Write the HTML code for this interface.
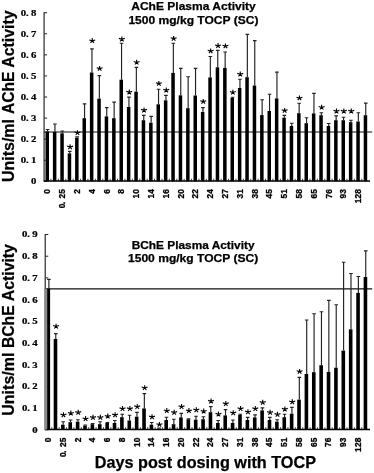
<!DOCTYPE html>
<html><head><meta charset="utf-8"><title>ChE Plasma Activity</title>
<style>
html,body{margin:0;padding:0;background:#fff;}
svg{display:block;will-change:transform;opacity:0.999;}
text{font-family:"Liberation Sans",sans-serif;fill:#000;}
.yl{font-family:"Liberation Serif",serif;font-weight:bold;font-size:7.7px;stroke:#000;stroke-width:0.2px;}
.xl{font-weight:bold;font-size:8.4px;stroke:#000;stroke-width:0.3px;}
.tt{font-weight:bold;font-size:10px;stroke:#000;stroke-width:0.25px;}
.at{font-weight:bold;font-size:16px;stroke:#000;stroke-width:0.25px;}
</style></head><body>
<svg width="374" height="473" viewBox="0 0 374 473">
<rect width="374" height="473" fill="#fff"/>
<line x1="44.1" y1="12.2" x2="44.1" y2="181.3" stroke="#3a3a3a" stroke-width="1.3"/>
<line x1="44.1" y1="12.70" x2="47.1" y2="12.70" stroke="#222" stroke-width="1.0"/>
<line x1="44.1" y1="33.78" x2="47.1" y2="33.78" stroke="#222" stroke-width="1.0"/>
<line x1="44.1" y1="54.86" x2="47.1" y2="54.86" stroke="#222" stroke-width="1.0"/>
<line x1="44.1" y1="75.94" x2="47.1" y2="75.94" stroke="#222" stroke-width="1.0"/>
<line x1="44.1" y1="97.02" x2="47.1" y2="97.02" stroke="#222" stroke-width="1.0"/>
<line x1="44.1" y1="118.10" x2="47.1" y2="118.10" stroke="#222" stroke-width="1.0"/>
<line x1="44.1" y1="139.18" x2="47.1" y2="139.18" stroke="#222" stroke-width="1.0"/>
<line x1="44.1" y1="160.26" x2="47.1" y2="160.26" stroke="#222" stroke-width="1.0"/>
<line x1="44.1" y1="181.34" x2="47.1" y2="181.34" stroke="#222" stroke-width="1.0"/>
<text transform="translate(20.80,15.65) scale(1.4,1)" class="yl">0</text><text transform="translate(26.00,15.65) scale(1.4,1)" class="yl">.</text><text transform="translate(31.00,15.65) scale(1.4,1)" class="yl">8</text>
<text transform="translate(20.80,36.73) scale(1.4,1)" class="yl">0</text><text transform="translate(26.00,36.73) scale(1.4,1)" class="yl">.</text><text transform="translate(31.00,36.73) scale(1.4,1)" class="yl">7</text>
<text transform="translate(20.80,57.81) scale(1.4,1)" class="yl">0</text><text transform="translate(26.00,57.81) scale(1.4,1)" class="yl">.</text><text transform="translate(31.00,57.81) scale(1.4,1)" class="yl">6</text>
<text transform="translate(20.80,78.89) scale(1.4,1)" class="yl">0</text><text transform="translate(26.00,78.89) scale(1.4,1)" class="yl">.</text><text transform="translate(31.00,78.89) scale(1.4,1)" class="yl">5</text>
<text transform="translate(20.80,99.97) scale(1.4,1)" class="yl">0</text><text transform="translate(26.00,99.97) scale(1.4,1)" class="yl">.</text><text transform="translate(31.00,99.97) scale(1.4,1)" class="yl">4</text>
<text transform="translate(20.80,121.05) scale(1.4,1)" class="yl">0</text><text transform="translate(26.00,121.05) scale(1.4,1)" class="yl">.</text><text transform="translate(31.00,121.05) scale(1.4,1)" class="yl">3</text>
<text transform="translate(20.80,142.13) scale(1.4,1)" class="yl">0</text><text transform="translate(26.00,142.13) scale(1.4,1)" class="yl">.</text><text transform="translate(31.00,142.13) scale(1.4,1)" class="yl">2</text>
<text transform="translate(20.80,163.21) scale(1.4,1)" class="yl">0</text><text transform="translate(26.00,163.21) scale(1.4,1)" class="yl">.</text><text transform="translate(31.00,163.21) scale(1.4,1)" class="yl">1</text>
<text transform="translate(31.00,184.29) scale(1.4,1)" class="yl">0</text>
<line x1="44.1" y1="132.0" x2="372.2" y2="132.0" stroke="#111" stroke-width="1.15"/>
<line x1="43.7" y1="181.0" x2="370" y2="181.0" stroke="#000" stroke-width="1.4"/>
<rect x="45.50" y="131.50" width="3.5" height="49.80" fill="#000"/>
<line x1="50.95" y1="178.70" x2="50.95" y2="181.30" stroke="#111" stroke-width="0.8"/>
<path d="M47.55 131.50V129.50M45.75 129.50H49.35" stroke="#222" stroke-width="1.15" fill="none"/>
<rect x="52.90" y="132.00" width="3.5" height="49.30" fill="#000"/>
<line x1="58.35" y1="178.70" x2="58.35" y2="181.30" stroke="#111" stroke-width="0.8"/>
<path d="M54.95 132.00V124.00M53.15 124.00H56.75" stroke="#222" stroke-width="1.15" fill="none"/>
<rect x="60.30" y="133.30" width="3.5" height="48.00" fill="#000"/>
<line x1="65.75" y1="178.70" x2="65.75" y2="181.30" stroke="#111" stroke-width="0.8"/>
<path d="M62.35 133.30V131.00M60.55 131.00H64.15" stroke="#222" stroke-width="1.15" fill="none"/>
<rect x="67.70" y="153.40" width="3.5" height="27.90" fill="#000"/>
<line x1="73.15" y1="178.70" x2="73.15" y2="181.30" stroke="#111" stroke-width="0.8"/>
<path d="M69.75 153.40V151.40M67.95 151.40H71.55" stroke="#222" stroke-width="1.15" fill="none"/>
<path d="M70.05 147.05L70.05 144.30M70.05 147.05L73.00 146.15M70.05 147.05L71.80 149.10M70.05 147.05L68.30 149.10M70.05 147.05L67.10 146.15" stroke="#000" stroke-width="1.1" fill="none"/>
<rect x="75.10" y="137.80" width="3.5" height="43.50" fill="#000"/>
<line x1="80.55" y1="178.70" x2="80.55" y2="181.30" stroke="#111" stroke-width="0.8"/>
<path d="M77.15 137.80V136.80M75.35 136.80H78.95" stroke="#222" stroke-width="1.15" fill="none"/>
<path d="M77.45 132.95L77.45 130.20M77.45 132.95L80.40 132.05M77.45 132.95L79.20 135.00M77.45 132.95L75.70 135.00M77.45 132.95L74.50 132.05" stroke="#000" stroke-width="1.1" fill="none"/>
<rect x="82.50" y="118.20" width="3.5" height="63.10" fill="#000"/>
<line x1="87.95" y1="178.70" x2="87.95" y2="181.30" stroke="#111" stroke-width="0.8"/>
<path d="M84.55 118.20V103.90M82.75 103.90H86.35" stroke="#222" stroke-width="1.15" fill="none"/>
<rect x="89.90" y="72.50" width="3.5" height="108.80" fill="#000"/>
<line x1="95.35" y1="178.70" x2="95.35" y2="181.30" stroke="#111" stroke-width="0.8"/>
<path d="M91.95 72.50V48.90M90.15 48.90H93.75" stroke="#222" stroke-width="1.15" fill="none"/>
<path d="M92.25 40.85L92.25 38.10M92.25 40.85L95.20 39.95M92.25 40.85L94.00 42.90M92.25 40.85L90.50 42.90M92.25 40.85L89.30 39.95" stroke="#000" stroke-width="1.1" fill="none"/>
<rect x="97.30" y="98.60" width="3.5" height="82.70" fill="#000"/>
<line x1="102.75" y1="178.70" x2="102.75" y2="181.30" stroke="#111" stroke-width="0.8"/>
<path d="M99.35 98.60V75.60M97.55 75.60H101.15" stroke="#222" stroke-width="1.15" fill="none"/>
<path d="M99.65 68.65L99.65 65.90M99.65 68.65L102.60 67.75M99.65 68.65L101.40 70.70M99.65 68.65L97.90 70.70M99.65 68.65L96.70 67.75" stroke="#000" stroke-width="1.1" fill="none"/>
<rect x="104.70" y="116.40" width="3.5" height="64.90" fill="#000"/>
<line x1="110.15" y1="178.70" x2="110.15" y2="181.30" stroke="#111" stroke-width="0.8"/>
<path d="M106.75 116.40V107.60M104.95 107.60H108.55" stroke="#222" stroke-width="1.15" fill="none"/>
<rect x="112.10" y="118.20" width="3.5" height="63.10" fill="#000"/>
<line x1="117.55" y1="178.70" x2="117.55" y2="181.30" stroke="#111" stroke-width="0.8"/>
<path d="M114.15 118.20V102.10M112.35 102.10H115.95" stroke="#222" stroke-width="1.15" fill="none"/>
<rect x="119.50" y="79.70" width="3.5" height="101.60" fill="#000"/>
<line x1="124.95" y1="178.70" x2="124.95" y2="181.30" stroke="#111" stroke-width="0.8"/>
<path d="M121.55 79.70V43.20M119.75 43.20H123.35" stroke="#222" stroke-width="1.15" fill="none"/>
<path d="M121.85 39.25L121.85 36.50M121.85 39.25L124.80 38.35M121.85 39.25L123.60 41.30M121.85 39.25L120.10 41.30M121.85 39.25L118.90 38.35" stroke="#000" stroke-width="1.1" fill="none"/>
<rect x="126.90" y="107.00" width="3.5" height="74.30" fill="#000"/>
<line x1="132.35" y1="178.70" x2="132.35" y2="181.30" stroke="#111" stroke-width="0.8"/>
<path d="M128.95 107.00V97.10M127.15 97.10H130.75" stroke="#222" stroke-width="1.15" fill="none"/>
<path d="M129.25 92.25L129.25 89.50M129.25 92.25L132.20 91.35M129.25 92.25L131.00 94.30M129.25 92.25L127.50 94.30M129.25 92.25L126.30 91.35" stroke="#000" stroke-width="1.1" fill="none"/>
<rect x="134.30" y="91.70" width="3.5" height="89.60" fill="#000"/>
<line x1="139.75" y1="178.70" x2="139.75" y2="181.30" stroke="#111" stroke-width="0.8"/>
<path d="M136.35 91.70V67.40M134.55 67.40H138.15" stroke="#222" stroke-width="1.15" fill="none"/>
<path d="M136.65 62.45L136.65 59.70M136.65 62.45L139.60 61.55M136.65 62.45L138.40 64.50M136.65 62.45L134.90 64.50M136.65 62.45L133.70 61.55" stroke="#000" stroke-width="1.1" fill="none"/>
<rect x="141.70" y="120.20" width="3.5" height="61.10" fill="#000"/>
<line x1="147.15" y1="178.70" x2="147.15" y2="181.30" stroke="#111" stroke-width="0.8"/>
<path d="M143.75 120.20V115.40M141.95 115.40H145.55" stroke="#222" stroke-width="1.15" fill="none"/>
<path d="M144.05 110.25L144.05 107.50M144.05 110.25L147.00 109.35M144.05 110.25L145.80 112.30M144.05 110.25L142.30 112.30M144.05 110.25L141.10 109.35" stroke="#000" stroke-width="1.1" fill="none"/>
<rect x="149.10" y="122.70" width="3.5" height="58.60" fill="#000"/>
<line x1="154.55" y1="178.70" x2="154.55" y2="181.30" stroke="#111" stroke-width="0.8"/>
<path d="M151.15 122.70V116.40M149.35 116.40H152.95" stroke="#222" stroke-width="1.15" fill="none"/>
<rect x="156.50" y="104.30" width="3.5" height="77.00" fill="#000"/>
<line x1="161.95" y1="178.70" x2="161.95" y2="181.30" stroke="#111" stroke-width="0.8"/>
<path d="M158.55 104.30V89.20M156.75 89.20H160.35" stroke="#222" stroke-width="1.15" fill="none"/>
<path d="M158.85 83.65L158.85 80.90M158.85 83.65L161.80 82.75M158.85 83.65L160.60 85.70M158.85 83.65L157.10 85.70M158.85 83.65L155.90 82.75" stroke="#000" stroke-width="1.1" fill="none"/>
<rect x="163.90" y="100.30" width="3.5" height="81.00" fill="#000"/>
<line x1="169.35" y1="178.70" x2="169.35" y2="181.30" stroke="#111" stroke-width="0.8"/>
<path d="M165.95 100.30V95.30M164.15 95.30H167.75" stroke="#222" stroke-width="1.15" fill="none"/>
<path d="M166.25 90.25L166.25 87.50M166.25 90.25L169.20 89.35M166.25 90.25L168.00 92.30M166.25 90.25L164.50 92.30M166.25 90.25L163.30 89.35" stroke="#000" stroke-width="1.1" fill="none"/>
<rect x="171.30" y="72.90" width="3.5" height="108.40" fill="#000"/>
<line x1="176.75" y1="178.70" x2="176.75" y2="181.30" stroke="#111" stroke-width="0.8"/>
<path d="M173.35 72.90V43.20M171.55 43.20H175.15" stroke="#222" stroke-width="1.15" fill="none"/>
<path d="M173.65 38.65L173.65 35.90M173.65 38.65L176.60 37.75M173.65 38.65L175.40 40.70M173.65 38.65L171.90 40.70M173.65 38.65L170.70 37.75" stroke="#000" stroke-width="1.1" fill="none"/>
<rect x="178.70" y="95.30" width="3.5" height="86.00" fill="#000"/>
<line x1="184.15" y1="178.70" x2="184.15" y2="181.30" stroke="#111" stroke-width="0.8"/>
<path d="M180.75 95.30V68.40M178.95 68.40H182.55" stroke="#222" stroke-width="1.15" fill="none"/>
<rect x="186.10" y="108.20" width="3.5" height="73.10" fill="#000"/>
<line x1="191.55" y1="178.70" x2="191.55" y2="181.30" stroke="#111" stroke-width="0.8"/>
<path d="M188.15 108.20V76.70M186.35 76.70H189.95" stroke="#222" stroke-width="1.15" fill="none"/>
<rect x="193.50" y="95.50" width="3.5" height="85.80" fill="#000"/>
<line x1="198.95" y1="178.70" x2="198.95" y2="181.30" stroke="#111" stroke-width="0.8"/>
<path d="M195.55 95.50V68.40M193.75 68.40H197.35" stroke="#222" stroke-width="1.15" fill="none"/>
<rect x="200.90" y="112.00" width="3.5" height="69.30" fill="#000"/>
<line x1="206.35" y1="178.70" x2="206.35" y2="181.30" stroke="#111" stroke-width="0.8"/>
<path d="M202.95 112.00V107.60M201.15 107.60H204.75" stroke="#222" stroke-width="1.15" fill="none"/>
<path d="M203.25 101.65L203.25 98.90M203.25 101.65L206.20 100.75M203.25 101.65L205.00 103.70M203.25 101.65L201.50 103.70M203.25 101.65L200.30 100.75" stroke="#000" stroke-width="1.1" fill="none"/>
<rect x="208.30" y="77.40" width="3.5" height="103.90" fill="#000"/>
<line x1="213.75" y1="178.70" x2="213.75" y2="181.30" stroke="#111" stroke-width="0.8"/>
<path d="M210.35 77.40V56.50M208.55 56.50H212.15" stroke="#222" stroke-width="1.15" fill="none"/>
<path d="M210.65 51.15L210.65 48.40M210.65 51.15L213.60 50.25M210.65 51.15L212.40 53.20M210.65 51.15L208.90 53.20M210.65 51.15L207.70 50.25" stroke="#000" stroke-width="1.1" fill="none"/>
<rect x="215.70" y="67.30" width="3.5" height="114.00" fill="#000"/>
<line x1="221.15" y1="178.70" x2="221.15" y2="181.30" stroke="#111" stroke-width="0.8"/>
<path d="M217.75 67.30V50.30M215.95 50.30H219.55" stroke="#222" stroke-width="1.15" fill="none"/>
<path d="M218.05 45.85L218.05 43.10M218.05 45.85L221.00 44.95M218.05 45.85L219.80 47.90M218.05 45.85L216.30 47.90M218.05 45.85L215.10 44.95" stroke="#000" stroke-width="1.1" fill="none"/>
<rect x="223.10" y="67.90" width="3.5" height="113.40" fill="#000"/>
<line x1="228.55" y1="178.70" x2="228.55" y2="181.30" stroke="#111" stroke-width="0.8"/>
<path d="M225.15 67.90V52.00M223.35 52.00H226.95" stroke="#222" stroke-width="1.15" fill="none"/>
<path d="M225.45 46.15L225.45 43.40M225.45 46.15L228.40 45.25M225.45 46.15L227.20 48.20M225.45 46.15L223.70 48.20M225.45 46.15L222.50 45.25" stroke="#000" stroke-width="1.1" fill="none"/>
<rect x="230.50" y="98.00" width="3.5" height="83.30" fill="#000"/>
<line x1="235.95" y1="178.70" x2="235.95" y2="181.30" stroke="#111" stroke-width="0.8"/>
<path d="M232.55 98.00V97.20M230.75 97.20H234.35" stroke="#222" stroke-width="1.15" fill="none"/>
<path d="M232.85 92.45L232.85 89.70M232.85 92.45L235.80 91.55M232.85 92.45L234.60 94.50M232.85 92.45L231.10 94.50M232.85 92.45L229.90 91.55" stroke="#000" stroke-width="1.1" fill="none"/>
<rect x="237.90" y="88.00" width="3.5" height="93.30" fill="#000"/>
<line x1="243.35" y1="178.70" x2="243.35" y2="181.30" stroke="#111" stroke-width="0.8"/>
<path d="M239.95 88.00V79.20M238.15 79.20H241.75" stroke="#222" stroke-width="1.15" fill="none"/>
<path d="M240.25 74.25L240.25 71.50M240.25 74.25L243.20 73.35M240.25 74.25L242.00 76.30M240.25 74.25L238.50 76.30M240.25 74.25L237.30 73.35" stroke="#000" stroke-width="1.1" fill="none"/>
<rect x="245.30" y="77.20" width="3.5" height="104.10" fill="#000"/>
<line x1="250.75" y1="178.70" x2="250.75" y2="181.30" stroke="#111" stroke-width="0.8"/>
<path d="M247.35 77.20V34.40M245.55 34.40H249.15" stroke="#222" stroke-width="1.15" fill="none"/>
<rect x="252.70" y="85.50" width="3.5" height="95.80" fill="#000"/>
<line x1="258.15" y1="178.70" x2="258.15" y2="181.30" stroke="#111" stroke-width="0.8"/>
<path d="M254.75 85.50V40.60M252.95 40.60H256.55" stroke="#222" stroke-width="1.15" fill="none"/>
<rect x="260.10" y="115.10" width="3.5" height="66.20" fill="#000"/>
<line x1="265.55" y1="178.70" x2="265.55" y2="181.30" stroke="#111" stroke-width="0.8"/>
<path d="M262.15 115.10V99.70M260.35 99.70H263.95" stroke="#222" stroke-width="1.15" fill="none"/>
<rect x="267.50" y="111.00" width="3.5" height="70.30" fill="#000"/>
<line x1="272.95" y1="178.70" x2="272.95" y2="181.30" stroke="#111" stroke-width="0.8"/>
<path d="M269.55 111.00V94.20M267.75 94.20H271.35" stroke="#222" stroke-width="1.15" fill="none"/>
<rect x="274.90" y="98.40" width="3.5" height="82.90" fill="#000"/>
<line x1="280.35" y1="178.70" x2="280.35" y2="181.30" stroke="#111" stroke-width="0.8"/>
<path d="M276.95 98.40V72.10M275.15 72.10H278.75" stroke="#222" stroke-width="1.15" fill="none"/>
<rect x="282.30" y="117.70" width="3.5" height="63.60" fill="#000"/>
<line x1="287.75" y1="178.70" x2="287.75" y2="181.30" stroke="#111" stroke-width="0.8"/>
<path d="M284.35 117.70V115.30M282.55 115.30H286.15" stroke="#222" stroke-width="1.15" fill="none"/>
<path d="M284.65 110.65L284.65 107.90M284.65 110.65L287.60 109.75M284.65 110.65L286.40 112.70M284.65 110.65L282.90 112.70M284.65 110.65L281.70 109.75" stroke="#000" stroke-width="1.1" fill="none"/>
<rect x="289.70" y="126.00" width="3.5" height="55.30" fill="#000"/>
<line x1="295.15" y1="178.70" x2="295.15" y2="181.30" stroke="#111" stroke-width="0.8"/>
<path d="M291.75 126.00V123.20M289.95 123.20H293.55" stroke="#222" stroke-width="1.15" fill="none"/>
<rect x="297.10" y="113.20" width="3.5" height="68.10" fill="#000"/>
<line x1="302.55" y1="178.70" x2="302.55" y2="181.30" stroke="#111" stroke-width="0.8"/>
<path d="M299.15 113.20V103.20M297.35 103.20H300.95" stroke="#222" stroke-width="1.15" fill="none"/>
<path d="M299.45 98.15L299.45 95.40M299.45 98.15L302.40 97.25M299.45 98.15L301.20 100.20M299.45 98.15L297.70 100.20M299.45 98.15L296.50 97.25" stroke="#000" stroke-width="1.1" fill="none"/>
<rect x="304.50" y="123.20" width="3.5" height="58.10" fill="#000"/>
<line x1="309.95" y1="178.70" x2="309.95" y2="181.30" stroke="#111" stroke-width="0.8"/>
<path d="M306.55 123.20V117.70M304.75 117.70H308.35" stroke="#222" stroke-width="1.15" fill="none"/>
<rect x="311.90" y="113.40" width="3.5" height="67.90" fill="#000"/>
<line x1="317.35" y1="178.70" x2="317.35" y2="181.30" stroke="#111" stroke-width="0.8"/>
<path d="M313.95 113.40V93.40M312.15 93.40H315.75" stroke="#222" stroke-width="1.15" fill="none"/>
<rect x="319.30" y="115.20" width="3.5" height="66.10" fill="#000"/>
<line x1="324.75" y1="178.70" x2="324.75" y2="181.30" stroke="#111" stroke-width="0.8"/>
<path d="M321.35 115.20V112.70M319.55 112.70H323.15" stroke="#222" stroke-width="1.15" fill="none"/>
<path d="M321.65 107.45L321.65 104.70M321.65 107.45L324.60 106.55M321.65 107.45L323.40 109.50M321.65 107.45L319.90 109.50M321.65 107.45L318.70 106.55" stroke="#000" stroke-width="1.1" fill="none"/>
<rect x="326.70" y="126.00" width="3.5" height="55.30" fill="#000"/>
<line x1="332.15" y1="178.70" x2="332.15" y2="181.30" stroke="#111" stroke-width="0.8"/>
<path d="M328.75 126.00V123.50M326.95 123.50H330.55" stroke="#222" stroke-width="1.15" fill="none"/>
<rect x="334.10" y="120.20" width="3.5" height="61.10" fill="#000"/>
<line x1="339.55" y1="178.70" x2="339.55" y2="181.30" stroke="#111" stroke-width="0.8"/>
<path d="M336.15 120.20V115.90M334.35 115.90H337.95" stroke="#222" stroke-width="1.15" fill="none"/>
<path d="M336.45 111.25L336.45 108.50M336.45 111.25L339.40 110.35M336.45 111.25L338.20 113.30M336.45 111.25L334.70 113.30M336.45 111.25L333.50 110.35" stroke="#000" stroke-width="1.1" fill="none"/>
<rect x="341.50" y="120.20" width="3.5" height="61.10" fill="#000"/>
<line x1="346.95" y1="178.70" x2="346.95" y2="181.30" stroke="#111" stroke-width="0.8"/>
<path d="M343.55 120.20V117.20M341.75 117.20H345.35" stroke="#222" stroke-width="1.15" fill="none"/>
<path d="M343.85 111.25L343.85 108.50M343.85 111.25L346.80 110.35M343.85 111.25L345.60 113.30M343.85 111.25L342.10 113.30M343.85 111.25L340.90 110.35" stroke="#000" stroke-width="1.1" fill="none"/>
<rect x="348.90" y="122.20" width="3.5" height="59.10" fill="#000"/>
<line x1="354.35" y1="178.70" x2="354.35" y2="181.30" stroke="#111" stroke-width="0.8"/>
<path d="M350.95 122.20V120.20M349.15 120.20H352.75" stroke="#222" stroke-width="1.15" fill="none"/>
<path d="M351.25 111.25L351.25 108.50M351.25 111.25L354.20 110.35M351.25 111.25L353.00 113.30M351.25 111.25L349.50 113.30M351.25 111.25L348.30 110.35" stroke="#000" stroke-width="1.1" fill="none"/>
<rect x="356.30" y="121.50" width="3.5" height="59.80" fill="#000"/>
<line x1="361.75" y1="178.70" x2="361.75" y2="181.30" stroke="#111" stroke-width="0.8"/>
<path d="M358.35 121.50V112.70M356.55 112.70H360.15" stroke="#222" stroke-width="1.15" fill="none"/>
<rect x="363.70" y="115.20" width="3.5" height="66.10" fill="#000"/>
<path d="M365.75 115.20V103.10M363.95 103.10H367.55" stroke="#222" stroke-width="1.15" fill="none"/>
<text transform="translate(50.45,193.65) rotate(-90) scale(1.0,1)" class="xl">0</text>
<text transform="translate(65.25,208.20) rotate(-90) scale(1.0,1)" class="xl">0</text><text transform="translate(65.25,204.25) rotate(-90) scale(1.0,1)" class="xl">.</text><text transform="translate(65.25,198.50) rotate(-90) scale(1.0,1)" class="xl">2</text><text transform="translate(65.25,193.65) rotate(-90) scale(1.0,1)" class="xl">5</text>
<text transform="translate(80.05,193.65) rotate(-90) scale(1.0,1)" class="xl">2</text>
<text transform="translate(94.85,193.65) rotate(-90) scale(1.0,1)" class="xl">4</text>
<text transform="translate(109.65,193.65) rotate(-90) scale(1.0,1)" class="xl">6</text>
<text transform="translate(124.45,193.65) rotate(-90) scale(1.0,1)" class="xl">8</text>
<text transform="translate(139.25,198.50) rotate(-90) scale(1.0,1)" class="xl">1</text><text transform="translate(139.25,193.65) rotate(-90) scale(1.0,1)" class="xl">0</text>
<text transform="translate(154.05,198.50) rotate(-90) scale(1.0,1)" class="xl">1</text><text transform="translate(154.05,193.65) rotate(-90) scale(1.0,1)" class="xl">4</text>
<text transform="translate(168.85,198.50) rotate(-90) scale(1.0,1)" class="xl">1</text><text transform="translate(168.85,193.65) rotate(-90) scale(1.0,1)" class="xl">6</text>
<text transform="translate(183.65,198.50) rotate(-90) scale(1.0,1)" class="xl">2</text><text transform="translate(183.65,193.65) rotate(-90) scale(1.0,1)" class="xl">0</text>
<text transform="translate(198.45,198.50) rotate(-90) scale(1.0,1)" class="xl">2</text><text transform="translate(198.45,193.65) rotate(-90) scale(1.0,1)" class="xl">2</text>
<text transform="translate(213.25,198.50) rotate(-90) scale(1.0,1)" class="xl">2</text><text transform="translate(213.25,193.65) rotate(-90) scale(1.0,1)" class="xl">4</text>
<text transform="translate(228.05,198.50) rotate(-90) scale(1.0,1)" class="xl">2</text><text transform="translate(228.05,193.65) rotate(-90) scale(1.0,1)" class="xl">7</text>
<text transform="translate(242.85,198.50) rotate(-90) scale(1.0,1)" class="xl">3</text><text transform="translate(242.85,193.65) rotate(-90) scale(1.0,1)" class="xl">1</text>
<text transform="translate(257.65,198.50) rotate(-90) scale(1.0,1)" class="xl">3</text><text transform="translate(257.65,193.65) rotate(-90) scale(1.0,1)" class="xl">8</text>
<text transform="translate(272.45,198.50) rotate(-90) scale(1.0,1)" class="xl">4</text><text transform="translate(272.45,193.65) rotate(-90) scale(1.0,1)" class="xl">5</text>
<text transform="translate(287.25,198.50) rotate(-90) scale(1.0,1)" class="xl">5</text><text transform="translate(287.25,193.65) rotate(-90) scale(1.0,1)" class="xl">1</text>
<text transform="translate(302.05,198.50) rotate(-90) scale(1.0,1)" class="xl">5</text><text transform="translate(302.05,193.65) rotate(-90) scale(1.0,1)" class="xl">8</text>
<text transform="translate(316.85,198.50) rotate(-90) scale(1.0,1)" class="xl">6</text><text transform="translate(316.85,193.65) rotate(-90) scale(1.0,1)" class="xl">5</text>
<text transform="translate(331.65,198.50) rotate(-90) scale(1.0,1)" class="xl">7</text><text transform="translate(331.65,193.65) rotate(-90) scale(1.0,1)" class="xl">6</text>
<text transform="translate(346.45,198.50) rotate(-90) scale(1.0,1)" class="xl">9</text><text transform="translate(346.45,193.65) rotate(-90) scale(1.0,1)" class="xl">3</text>
<text transform="translate(361.25,203.35) rotate(-90) scale(1.0,1)" class="xl">1</text><text transform="translate(361.25,198.50) rotate(-90) scale(1.0,1)" class="xl">2</text><text transform="translate(361.25,193.65) rotate(-90) scale(1.0,1)" class="xl">8</text>
<line x1="45.25" y1="234.0" x2="45.25" y2="429.8" stroke="#3a3a3a" stroke-width="1.3"/>
<line x1="45.25" y1="234.50" x2="48.25" y2="234.50" stroke="#222" stroke-width="1.0"/>
<line x1="45.25" y1="256.20" x2="48.25" y2="256.20" stroke="#222" stroke-width="1.0"/>
<line x1="45.25" y1="277.90" x2="48.25" y2="277.90" stroke="#222" stroke-width="1.0"/>
<line x1="45.25" y1="299.60" x2="48.25" y2="299.60" stroke="#222" stroke-width="1.0"/>
<line x1="45.25" y1="321.30" x2="48.25" y2="321.30" stroke="#222" stroke-width="1.0"/>
<line x1="45.25" y1="343.00" x2="48.25" y2="343.00" stroke="#222" stroke-width="1.0"/>
<line x1="45.25" y1="364.70" x2="48.25" y2="364.70" stroke="#222" stroke-width="1.0"/>
<line x1="45.25" y1="386.40" x2="48.25" y2="386.40" stroke="#222" stroke-width="1.0"/>
<line x1="45.25" y1="408.10" x2="48.25" y2="408.10" stroke="#222" stroke-width="1.0"/>
<line x1="45.25" y1="429.80" x2="48.25" y2="429.80" stroke="#222" stroke-width="1.0"/>
<text transform="translate(22.00,237.45) scale(1.4,1)" class="yl">0</text><text transform="translate(27.20,237.45) scale(1.4,1)" class="yl">.</text><text transform="translate(32.20,237.45) scale(1.4,1)" class="yl">9</text>
<text transform="translate(22.00,259.15) scale(1.4,1)" class="yl">0</text><text transform="translate(27.20,259.15) scale(1.4,1)" class="yl">.</text><text transform="translate(32.20,259.15) scale(1.4,1)" class="yl">8</text>
<text transform="translate(22.00,280.85) scale(1.4,1)" class="yl">0</text><text transform="translate(27.20,280.85) scale(1.4,1)" class="yl">.</text><text transform="translate(32.20,280.85) scale(1.4,1)" class="yl">7</text>
<text transform="translate(22.00,302.55) scale(1.4,1)" class="yl">0</text><text transform="translate(27.20,302.55) scale(1.4,1)" class="yl">.</text><text transform="translate(32.20,302.55) scale(1.4,1)" class="yl">6</text>
<text transform="translate(22.00,324.25) scale(1.4,1)" class="yl">0</text><text transform="translate(27.20,324.25) scale(1.4,1)" class="yl">.</text><text transform="translate(32.20,324.25) scale(1.4,1)" class="yl">5</text>
<text transform="translate(22.00,345.95) scale(1.4,1)" class="yl">0</text><text transform="translate(27.20,345.95) scale(1.4,1)" class="yl">.</text><text transform="translate(32.20,345.95) scale(1.4,1)" class="yl">4</text>
<text transform="translate(22.00,367.65) scale(1.4,1)" class="yl">0</text><text transform="translate(27.20,367.65) scale(1.4,1)" class="yl">.</text><text transform="translate(32.20,367.65) scale(1.4,1)" class="yl">3</text>
<text transform="translate(22.00,389.35) scale(1.4,1)" class="yl">0</text><text transform="translate(27.20,389.35) scale(1.4,1)" class="yl">.</text><text transform="translate(32.20,389.35) scale(1.4,1)" class="yl">2</text>
<text transform="translate(22.00,411.05) scale(1.4,1)" class="yl">0</text><text transform="translate(27.20,411.05) scale(1.4,1)" class="yl">.</text><text transform="translate(32.20,411.05) scale(1.4,1)" class="yl">1</text>
<text transform="translate(32.20,432.75) scale(1.4,1)" class="yl">0</text>
<line x1="45.25" y1="288.8" x2="372.2" y2="288.8" stroke="#111" stroke-width="1.15"/>
<line x1="44.85" y1="429.5" x2="370" y2="429.5" stroke="#000" stroke-width="1.4"/>
<rect x="47.10" y="288.60" width="3.0" height="141.20" fill="#000"/>
<line x1="51.79" y1="427.20" x2="51.79" y2="429.80" stroke="#111" stroke-width="0.8"/>
<path d="M48.90 288.60V279.30M47.10 279.30H50.70" stroke="#222" stroke-width="1.15" fill="none"/>
<rect x="53.68" y="339.00" width="3.6" height="90.80" fill="#000"/>
<line x1="59.17" y1="427.20" x2="59.17" y2="429.80" stroke="#111" stroke-width="0.8"/>
<path d="M55.78 339.00V333.60M53.98 333.60H57.58" stroke="#222" stroke-width="1.15" fill="none"/>
<path d="M56.08 326.45L56.08 323.70M56.08 326.45L59.03 325.55M56.08 326.45L57.83 328.50M56.08 326.45L54.33 328.50M56.08 326.45L53.13 325.55" stroke="#000" stroke-width="1.1" fill="none"/>
<rect x="61.06" y="424.70" width="3.6" height="5.10" fill="#000"/>
<line x1="66.55" y1="427.20" x2="66.55" y2="429.80" stroke="#111" stroke-width="0.8"/>
<path d="M63.16 424.70V421.70M61.36 421.70H64.96" stroke="#222" stroke-width="1.15" fill="none"/>
<path d="M63.46 415.05L63.46 412.30M63.46 415.05L66.41 414.15M63.46 415.05L65.21 417.10M63.46 415.05L61.71 417.10M63.46 415.05L60.51 414.15" stroke="#000" stroke-width="1.1" fill="none"/>
<rect x="68.44" y="422.20" width="3.6" height="7.60" fill="#000"/>
<line x1="73.93" y1="427.20" x2="73.93" y2="429.80" stroke="#111" stroke-width="0.8"/>
<path d="M70.54 422.20V420.00M68.74 420.00H72.34" stroke="#222" stroke-width="1.15" fill="none"/>
<path d="M70.84 413.35L70.84 410.60M70.84 413.35L73.79 412.45M70.84 413.35L72.59 415.40M70.84 413.35L69.09 415.40M70.84 413.35L67.89 412.45" stroke="#000" stroke-width="1.1" fill="none"/>
<rect x="75.82" y="421.70" width="3.6" height="8.10" fill="#000"/>
<line x1="81.31" y1="427.20" x2="81.31" y2="429.80" stroke="#111" stroke-width="0.8"/>
<path d="M77.92 421.70V419.70M76.12 419.70H79.72" stroke="#222" stroke-width="1.15" fill="none"/>
<path d="M78.22 412.55L78.22 409.80M78.22 412.55L81.17 411.65M78.22 412.55L79.97 414.60M78.22 412.55L76.47 414.60M78.22 412.55L75.27 411.65" stroke="#000" stroke-width="1.1" fill="none"/>
<rect x="83.20" y="425.50" width="3.6" height="4.30" fill="#000"/>
<line x1="88.69" y1="427.20" x2="88.69" y2="429.80" stroke="#111" stroke-width="0.8"/>
<path d="M85.30 425.50V425.00M83.50 425.00H87.10" stroke="#222" stroke-width="1.15" fill="none"/>
<path d="M85.60 418.85L85.60 416.10M85.60 418.85L88.55 417.95M85.60 418.85L87.35 420.90M85.60 418.85L83.85 420.90M85.60 418.85L82.65 417.95" stroke="#000" stroke-width="1.1" fill="none"/>
<rect x="90.58" y="424.20" width="3.6" height="5.60" fill="#000"/>
<line x1="96.07" y1="427.20" x2="96.07" y2="429.80" stroke="#111" stroke-width="0.8"/>
<path d="M92.68 424.20V423.50M90.88 423.50H94.48" stroke="#222" stroke-width="1.15" fill="none"/>
<path d="M92.98 417.55L92.98 414.80M92.98 417.55L95.93 416.65M92.98 417.55L94.73 419.60M92.98 417.55L91.23 419.60M92.98 417.55L90.03 416.65" stroke="#000" stroke-width="1.1" fill="none"/>
<rect x="97.96" y="424.20" width="3.6" height="5.60" fill="#000"/>
<line x1="103.45" y1="427.20" x2="103.45" y2="429.80" stroke="#111" stroke-width="0.8"/>
<path d="M100.06 424.20V421.70M98.26 421.70H101.86" stroke="#222" stroke-width="1.15" fill="none"/>
<path d="M100.36 417.55L100.36 414.80M100.36 417.55L103.31 416.65M100.36 417.55L102.11 419.60M100.36 417.55L98.61 419.60M100.36 417.55L97.41 416.65" stroke="#000" stroke-width="1.1" fill="none"/>
<rect x="105.34" y="423.00" width="3.6" height="6.80" fill="#000"/>
<line x1="110.83" y1="427.20" x2="110.83" y2="429.80" stroke="#111" stroke-width="0.8"/>
<path d="M107.44 423.00V422.50M105.64 422.50H109.24" stroke="#222" stroke-width="1.15" fill="none"/>
<path d="M107.74 416.35L107.74 413.60M107.74 416.35L110.69 415.45M107.74 416.35L109.49 418.40M107.74 416.35L105.99 418.40M107.74 416.35L104.79 415.45" stroke="#000" stroke-width="1.1" fill="none"/>
<rect x="112.72" y="423.00" width="3.6" height="6.80" fill="#000"/>
<line x1="118.21" y1="427.20" x2="118.21" y2="429.80" stroke="#111" stroke-width="0.8"/>
<path d="M114.82 423.00V420.50M113.02 420.50H116.62" stroke="#222" stroke-width="1.15" fill="none"/>
<path d="M115.12 415.05L115.12 412.30M115.12 415.05L118.07 414.15M115.12 415.05L116.87 417.10M115.12 415.05L113.37 417.10M115.12 415.05L112.17 414.15" stroke="#000" stroke-width="1.1" fill="none"/>
<rect x="120.10" y="417.20" width="3.6" height="12.60" fill="#000"/>
<line x1="125.59" y1="427.20" x2="125.59" y2="429.80" stroke="#111" stroke-width="0.8"/>
<path d="M122.20 417.20V414.20M120.40 414.20H124.00" stroke="#222" stroke-width="1.15" fill="none"/>
<path d="M122.50 408.75L122.50 406.00M122.50 408.75L125.45 407.85M122.50 408.75L124.25 410.80M122.50 408.75L120.75 410.80M122.50 408.75L119.55 407.85" stroke="#000" stroke-width="1.1" fill="none"/>
<rect x="127.48" y="420.50" width="3.6" height="9.30" fill="#000"/>
<line x1="132.97" y1="427.20" x2="132.97" y2="429.80" stroke="#111" stroke-width="0.8"/>
<path d="M129.58 420.50V415.20M127.78 415.20H131.38" stroke="#222" stroke-width="1.15" fill="none"/>
<path d="M129.88 408.75L129.88 406.00M129.88 408.75L132.83 407.85M129.88 408.75L131.63 410.80M129.88 408.75L128.13 410.80M129.88 408.75L126.93 407.85" stroke="#000" stroke-width="1.1" fill="none"/>
<rect x="134.86" y="416.70" width="3.6" height="13.10" fill="#000"/>
<line x1="140.35" y1="427.20" x2="140.35" y2="429.80" stroke="#111" stroke-width="0.8"/>
<path d="M136.96 416.70V412.40M135.16 412.40H138.76" stroke="#222" stroke-width="1.15" fill="none"/>
<path d="M137.26 406.75L137.26 404.00M137.26 406.75L140.21 405.85M137.26 406.75L139.01 408.80M137.26 406.75L135.51 408.80M137.26 406.75L134.31 405.85" stroke="#000" stroke-width="1.1" fill="none"/>
<rect x="142.24" y="408.40" width="3.6" height="21.40" fill="#000"/>
<line x1="147.73" y1="427.20" x2="147.73" y2="429.80" stroke="#111" stroke-width="0.8"/>
<path d="M144.34 408.40V393.60M142.54 393.60H146.14" stroke="#222" stroke-width="1.15" fill="none"/>
<path d="M144.64 387.95L144.64 385.20M144.64 387.95L147.59 387.05M144.64 387.95L146.39 390.00M144.64 387.95L142.89 390.00M144.64 387.95L141.69 387.05" stroke="#000" stroke-width="1.1" fill="none"/>
<rect x="149.62" y="424.70" width="3.6" height="5.10" fill="#000"/>
<line x1="155.11" y1="427.20" x2="155.11" y2="429.80" stroke="#111" stroke-width="0.8"/>
<path d="M151.72 424.70V422.50M149.92 422.50H153.52" stroke="#222" stroke-width="1.15" fill="none"/>
<path d="M152.02 417.05L152.02 414.30M152.02 417.05L154.97 416.15M152.02 417.05L153.77 419.10M152.02 417.05L150.27 419.10M152.02 417.05L149.07 416.15" stroke="#000" stroke-width="1.1" fill="none"/>
<rect x="157.00" y="428.50" width="3.6" height="1.30" fill="#000"/>
<line x1="162.49" y1="427.20" x2="162.49" y2="429.80" stroke="#111" stroke-width="0.8"/>
<path d="M159.10 428.50V428.00M157.30 428.00H160.90" stroke="#222" stroke-width="1.15" fill="none"/>
<path d="M159.40 424.65L159.40 421.90M159.40 424.65L162.35 423.75M159.40 424.65L161.15 426.70M159.40 424.65L157.65 426.70M159.40 424.65L156.45 423.75" stroke="#000" stroke-width="1.1" fill="none"/>
<rect x="164.38" y="420.00" width="3.6" height="9.80" fill="#000"/>
<line x1="169.87" y1="427.20" x2="169.87" y2="429.80" stroke="#111" stroke-width="0.8"/>
<path d="M166.48 420.00V417.20M164.68 417.20H168.28" stroke="#222" stroke-width="1.15" fill="none"/>
<path d="M166.78 410.85L166.78 408.10M166.78 410.85L169.73 409.95M166.78 410.85L168.53 412.90M166.78 410.85L165.03 412.90M166.78 410.85L163.83 409.95" stroke="#000" stroke-width="1.1" fill="none"/>
<rect x="171.76" y="424.20" width="3.6" height="5.60" fill="#000"/>
<line x1="177.25" y1="427.20" x2="177.25" y2="429.80" stroke="#111" stroke-width="0.8"/>
<path d="M173.86 424.20V419.20M172.06 419.20H175.66" stroke="#222" stroke-width="1.15" fill="none"/>
<path d="M174.16 412.55L174.16 409.80M174.16 412.55L177.11 411.65M174.16 412.55L175.91 414.60M174.16 412.55L172.41 414.60M174.16 412.55L171.21 411.65" stroke="#000" stroke-width="1.1" fill="none"/>
<rect x="179.14" y="417.40" width="3.6" height="12.40" fill="#000"/>
<line x1="184.63" y1="427.20" x2="184.63" y2="429.80" stroke="#111" stroke-width="0.8"/>
<path d="M181.24 417.40V413.40M179.44 413.40H183.04" stroke="#222" stroke-width="1.15" fill="none"/>
<path d="M181.54 406.75L181.54 404.00M181.54 406.75L184.49 405.85M181.54 406.75L183.29 408.80M181.54 406.75L179.79 408.80M181.54 406.75L178.59 405.85" stroke="#000" stroke-width="1.1" fill="none"/>
<rect x="186.52" y="419.20" width="3.6" height="10.60" fill="#000"/>
<line x1="192.01" y1="427.20" x2="192.01" y2="429.80" stroke="#111" stroke-width="0.8"/>
<path d="M188.62 419.20V418.70M186.82 418.70H190.42" stroke="#222" stroke-width="1.15" fill="none"/>
<path d="M188.92 410.85L188.92 408.10M188.92 410.85L191.87 409.95M188.92 410.85L190.67 412.90M188.92 410.85L187.17 412.90M188.92 410.85L185.97 409.95" stroke="#000" stroke-width="1.1" fill="none"/>
<rect x="193.90" y="419.70" width="3.6" height="10.10" fill="#000"/>
<line x1="199.39" y1="427.20" x2="199.39" y2="429.80" stroke="#111" stroke-width="0.8"/>
<path d="M196.00 419.70V416.20M194.20 416.20H197.80" stroke="#222" stroke-width="1.15" fill="none"/>
<path d="M196.30 410.05L196.30 407.30M196.30 410.05L199.25 409.15M196.30 410.05L198.05 412.10M196.30 410.05L194.55 412.10M196.30 410.05L193.35 409.15" stroke="#000" stroke-width="1.1" fill="none"/>
<rect x="201.28" y="419.20" width="3.6" height="10.60" fill="#000"/>
<line x1="206.77" y1="427.20" x2="206.77" y2="429.80" stroke="#111" stroke-width="0.8"/>
<path d="M203.38 419.20V416.70M201.58 416.70H205.18" stroke="#222" stroke-width="1.15" fill="none"/>
<path d="M203.68 411.35L203.68 408.60M203.68 411.35L206.63 410.45M203.68 411.35L205.43 413.40M203.68 411.35L201.93 413.40M203.68 411.35L200.73 410.45" stroke="#000" stroke-width="1.1" fill="none"/>
<rect x="208.66" y="412.20" width="3.6" height="17.60" fill="#000"/>
<line x1="214.15" y1="427.20" x2="214.15" y2="429.80" stroke="#111" stroke-width="0.8"/>
<path d="M210.76 412.20V406.60M208.96 406.60H212.56" stroke="#222" stroke-width="1.15" fill="none"/>
<path d="M211.06 401.25L211.06 398.50M211.06 401.25L214.01 400.35M211.06 401.25L212.81 403.30M211.06 401.25L209.31 403.30M211.06 401.25L208.11 400.35" stroke="#000" stroke-width="1.1" fill="none"/>
<rect x="216.04" y="423.00" width="3.6" height="6.80" fill="#000"/>
<line x1="221.53" y1="427.20" x2="221.53" y2="429.80" stroke="#111" stroke-width="0.8"/>
<path d="M218.14 423.00V420.50M216.34 420.50H219.94" stroke="#222" stroke-width="1.15" fill="none"/>
<path d="M218.44 414.25L218.44 411.50M218.44 414.25L221.39 413.35M218.44 414.25L220.19 416.30M218.44 414.25L216.69 416.30M218.44 414.25L215.49 413.35" stroke="#000" stroke-width="1.1" fill="none"/>
<rect x="223.42" y="415.40" width="3.6" height="14.40" fill="#000"/>
<line x1="228.91" y1="427.20" x2="228.91" y2="429.80" stroke="#111" stroke-width="0.8"/>
<path d="M225.52 415.40V409.60M223.72 409.60H227.32" stroke="#222" stroke-width="1.15" fill="none"/>
<path d="M225.82 403.75L225.82 401.00M225.82 403.75L228.77 402.85M225.82 403.75L227.57 405.80M225.82 403.75L224.07 405.80M225.82 403.75L222.87 402.85" stroke="#000" stroke-width="1.1" fill="none"/>
<rect x="230.80" y="423.00" width="3.6" height="6.80" fill="#000"/>
<line x1="236.29" y1="427.20" x2="236.29" y2="429.80" stroke="#111" stroke-width="0.8"/>
<path d="M232.90 423.00V420.00M231.10 420.00H234.70" stroke="#222" stroke-width="1.15" fill="none"/>
<path d="M233.20 413.05L233.20 410.30M233.20 413.05L236.15 412.15M233.20 413.05L234.95 415.10M233.20 413.05L231.45 415.10M233.20 413.05L230.25 412.15" stroke="#000" stroke-width="1.1" fill="none"/>
<rect x="238.18" y="414.90" width="3.6" height="14.90" fill="#000"/>
<line x1="243.67" y1="427.20" x2="243.67" y2="429.80" stroke="#111" stroke-width="0.8"/>
<path d="M240.28 414.90V414.20M238.48 414.20H242.08" stroke="#222" stroke-width="1.15" fill="none"/>
<path d="M240.58 408.75L240.58 406.00M240.58 408.75L243.53 407.85M240.58 408.75L242.33 410.80M240.58 408.75L238.83 410.80M240.58 408.75L237.63 407.85" stroke="#000" stroke-width="1.1" fill="none"/>
<rect x="245.56" y="420.00" width="3.6" height="9.80" fill="#000"/>
<line x1="251.05" y1="427.20" x2="251.05" y2="429.80" stroke="#111" stroke-width="0.8"/>
<path d="M247.66 420.00V417.40M245.86 417.40H249.46" stroke="#222" stroke-width="1.15" fill="none"/>
<path d="M247.96 412.05L247.96 409.30M247.96 412.05L250.91 411.15M247.96 412.05L249.71 414.10M247.96 412.05L246.21 414.10M247.96 412.05L245.01 411.15" stroke="#000" stroke-width="1.1" fill="none"/>
<rect x="252.94" y="417.40" width="3.6" height="12.40" fill="#000"/>
<line x1="258.43" y1="427.20" x2="258.43" y2="429.80" stroke="#111" stroke-width="0.8"/>
<path d="M255.04 417.40V414.90M253.24 414.90H256.84" stroke="#222" stroke-width="1.15" fill="none"/>
<path d="M255.34 408.75L255.34 406.00M255.34 408.75L258.29 407.85M255.34 408.75L257.09 410.80M255.34 408.75L253.59 410.80M255.34 408.75L252.39 407.85" stroke="#000" stroke-width="1.1" fill="none"/>
<rect x="260.32" y="410.40" width="3.6" height="19.40" fill="#000"/>
<line x1="265.81" y1="427.20" x2="265.81" y2="429.80" stroke="#111" stroke-width="0.8"/>
<path d="M262.42 410.40V407.90M260.62 407.90H264.22" stroke="#222" stroke-width="1.15" fill="none"/>
<path d="M262.72 402.55L262.72 399.80M262.72 402.55L265.67 401.65M262.72 402.55L264.47 404.60M262.72 402.55L260.97 404.60M262.72 402.55L259.77 401.65" stroke="#000" stroke-width="1.1" fill="none"/>
<rect x="267.70" y="420.00" width="3.6" height="9.80" fill="#000"/>
<line x1="273.19" y1="427.20" x2="273.19" y2="429.80" stroke="#111" stroke-width="0.8"/>
<path d="M269.80 420.00V417.40M268.00 417.40H271.60" stroke="#222" stroke-width="1.15" fill="none"/>
<path d="M270.10 412.55L270.10 409.80M270.10 412.55L273.05 411.65M270.10 412.55L271.85 414.60M270.10 412.55L268.35 414.60M270.10 412.55L267.15 411.65" stroke="#000" stroke-width="1.1" fill="none"/>
<rect x="275.08" y="421.70" width="3.6" height="8.10" fill="#000"/>
<line x1="280.57" y1="427.20" x2="280.57" y2="429.80" stroke="#111" stroke-width="0.8"/>
<path d="M277.18 421.70V419.70M275.38 419.70H278.98" stroke="#222" stroke-width="1.15" fill="none"/>
<path d="M277.48 414.55L277.48 411.80M277.48 414.55L280.43 413.65M277.48 414.55L279.23 416.60M277.48 414.55L275.73 416.60M277.48 414.55L274.53 413.65" stroke="#000" stroke-width="1.1" fill="none"/>
<rect x="282.46" y="417.20" width="3.6" height="12.60" fill="#000"/>
<line x1="287.95" y1="427.20" x2="287.95" y2="429.80" stroke="#111" stroke-width="0.8"/>
<path d="M284.56 417.20V414.20M282.76 414.20H286.36" stroke="#222" stroke-width="1.15" fill="none"/>
<path d="M284.86 409.25L284.86 406.50M284.86 409.25L287.81 408.35M284.86 409.25L286.61 411.30M284.86 409.25L283.11 411.30M284.86 409.25L281.91 408.35" stroke="#000" stroke-width="1.1" fill="none"/>
<rect x="289.84" y="413.70" width="3.6" height="16.10" fill="#000"/>
<line x1="295.33" y1="427.20" x2="295.33" y2="429.80" stroke="#111" stroke-width="0.8"/>
<path d="M291.94 413.70V407.40M290.14 407.40H293.74" stroke="#222" stroke-width="1.15" fill="none"/>
<path d="M292.24 402.05L292.24 399.30M292.24 402.05L295.19 401.15M292.24 402.05L293.99 404.10M292.24 402.05L290.49 404.10M292.24 402.05L289.29 401.15" stroke="#000" stroke-width="1.1" fill="none"/>
<rect x="297.22" y="399.60" width="3.6" height="30.20" fill="#000"/>
<line x1="302.71" y1="427.20" x2="302.71" y2="429.80" stroke="#111" stroke-width="0.8"/>
<path d="M299.32 399.60V377.40M297.52 377.40H301.12" stroke="#222" stroke-width="1.15" fill="none"/>
<path d="M299.62 371.65L299.62 368.90M299.62 371.65L302.57 370.75M299.62 371.65L301.37 373.70M299.62 371.65L297.87 373.70M299.62 371.65L296.67 370.75" stroke="#000" stroke-width="1.1" fill="none"/>
<rect x="304.60" y="374.00" width="3.6" height="55.80" fill="#000"/>
<line x1="310.09" y1="427.20" x2="310.09" y2="429.80" stroke="#111" stroke-width="0.8"/>
<path d="M306.70 374.00V320.00M304.90 320.00H308.50" stroke="#222" stroke-width="1.15" fill="none"/>
<rect x="311.98" y="372.20" width="3.6" height="57.60" fill="#000"/>
<line x1="317.47" y1="427.20" x2="317.47" y2="429.80" stroke="#111" stroke-width="0.8"/>
<path d="M314.08 372.20V313.70M312.28 313.70H315.88" stroke="#222" stroke-width="1.15" fill="none"/>
<rect x="319.36" y="365.20" width="3.6" height="64.60" fill="#000"/>
<line x1="324.85" y1="427.20" x2="324.85" y2="429.80" stroke="#111" stroke-width="0.8"/>
<path d="M321.46 365.20V311.70M319.66 311.70H323.26" stroke="#222" stroke-width="1.15" fill="none"/>
<rect x="326.74" y="371.90" width="3.6" height="57.90" fill="#000"/>
<line x1="332.23" y1="427.20" x2="332.23" y2="429.80" stroke="#111" stroke-width="0.8"/>
<path d="M328.84 371.90V300.40M327.04 300.40H330.64" stroke="#222" stroke-width="1.15" fill="none"/>
<rect x="334.12" y="367.70" width="3.6" height="62.10" fill="#000"/>
<line x1="339.61" y1="427.20" x2="339.61" y2="429.80" stroke="#111" stroke-width="0.8"/>
<path d="M336.22 367.70V304.70M334.42 304.70H338.02" stroke="#222" stroke-width="1.15" fill="none"/>
<rect x="341.50" y="350.60" width="3.6" height="79.20" fill="#000"/>
<line x1="346.99" y1="427.20" x2="346.99" y2="429.80" stroke="#111" stroke-width="0.8"/>
<path d="M343.60 350.60V262.20M341.80 262.20H345.40" stroke="#222" stroke-width="1.15" fill="none"/>
<rect x="348.88" y="329.30" width="3.6" height="100.50" fill="#000"/>
<line x1="354.37" y1="427.20" x2="354.37" y2="429.80" stroke="#111" stroke-width="0.8"/>
<path d="M350.98 329.30V273.50M349.18 273.50H352.78" stroke="#222" stroke-width="1.15" fill="none"/>
<rect x="356.26" y="292.90" width="3.6" height="136.90" fill="#000"/>
<line x1="361.75" y1="427.20" x2="361.75" y2="429.80" stroke="#111" stroke-width="0.8"/>
<path d="M358.36 292.90V276.50M356.56 276.50H360.16" stroke="#222" stroke-width="1.15" fill="none"/>
<rect x="363.64" y="277.00" width="3.6" height="152.80" fill="#000"/>
<path d="M365.74 277.00V250.90M363.94 250.90H367.54" stroke="#222" stroke-width="1.15" fill="none"/>
<text transform="translate(51.00,442.15) rotate(-90) scale(1.0,1)" class="xl">0</text>
<text transform="translate(65.76,457.00) rotate(-90) scale(1.0,1)" class="xl">0</text><text transform="translate(65.76,452.95) rotate(-90) scale(1.0,1)" class="xl">.</text><text transform="translate(65.76,447.10) rotate(-90) scale(1.0,1)" class="xl">2</text><text transform="translate(65.76,442.15) rotate(-90) scale(1.0,1)" class="xl">5</text>
<text transform="translate(80.52,442.15) rotate(-90) scale(1.0,1)" class="xl">2</text>
<text transform="translate(95.28,442.15) rotate(-90) scale(1.0,1)" class="xl">4</text>
<text transform="translate(110.04,442.15) rotate(-90) scale(1.0,1)" class="xl">6</text>
<text transform="translate(124.80,442.15) rotate(-90) scale(1.0,1)" class="xl">8</text>
<text transform="translate(139.56,447.10) rotate(-90) scale(1.0,1)" class="xl">1</text><text transform="translate(139.56,442.15) rotate(-90) scale(1.0,1)" class="xl">0</text>
<text transform="translate(154.32,447.10) rotate(-90) scale(1.0,1)" class="xl">1</text><text transform="translate(154.32,442.15) rotate(-90) scale(1.0,1)" class="xl">4</text>
<text transform="translate(169.08,447.10) rotate(-90) scale(1.0,1)" class="xl">1</text><text transform="translate(169.08,442.15) rotate(-90) scale(1.0,1)" class="xl">6</text>
<text transform="translate(183.84,447.10) rotate(-90) scale(1.0,1)" class="xl">2</text><text transform="translate(183.84,442.15) rotate(-90) scale(1.0,1)" class="xl">0</text>
<text transform="translate(198.60,447.10) rotate(-90) scale(1.0,1)" class="xl">2</text><text transform="translate(198.60,442.15) rotate(-90) scale(1.0,1)" class="xl">2</text>
<text transform="translate(213.36,447.10) rotate(-90) scale(1.0,1)" class="xl">2</text><text transform="translate(213.36,442.15) rotate(-90) scale(1.0,1)" class="xl">4</text>
<text transform="translate(228.12,447.10) rotate(-90) scale(1.0,1)" class="xl">2</text><text transform="translate(228.12,442.15) rotate(-90) scale(1.0,1)" class="xl">7</text>
<text transform="translate(242.88,447.10) rotate(-90) scale(1.0,1)" class="xl">3</text><text transform="translate(242.88,442.15) rotate(-90) scale(1.0,1)" class="xl">1</text>
<text transform="translate(257.64,447.10) rotate(-90) scale(1.0,1)" class="xl">3</text><text transform="translate(257.64,442.15) rotate(-90) scale(1.0,1)" class="xl">8</text>
<text transform="translate(272.40,447.10) rotate(-90) scale(1.0,1)" class="xl">4</text><text transform="translate(272.40,442.15) rotate(-90) scale(1.0,1)" class="xl">5</text>
<text transform="translate(287.16,447.10) rotate(-90) scale(1.0,1)" class="xl">5</text><text transform="translate(287.16,442.15) rotate(-90) scale(1.0,1)" class="xl">1</text>
<text transform="translate(301.92,447.10) rotate(-90) scale(1.0,1)" class="xl">5</text><text transform="translate(301.92,442.15) rotate(-90) scale(1.0,1)" class="xl">8</text>
<text transform="translate(316.68,447.10) rotate(-90) scale(1.0,1)" class="xl">6</text><text transform="translate(316.68,442.15) rotate(-90) scale(1.0,1)" class="xl">5</text>
<text transform="translate(331.44,447.10) rotate(-90) scale(1.0,1)" class="xl">7</text><text transform="translate(331.44,442.15) rotate(-90) scale(1.0,1)" class="xl">6</text>
<text transform="translate(346.20,447.10) rotate(-90) scale(1.0,1)" class="xl">9</text><text transform="translate(346.20,442.15) rotate(-90) scale(1.0,1)" class="xl">3</text>
<text transform="translate(360.96,452.05) rotate(-90) scale(1.0,1)" class="xl">1</text><text transform="translate(360.96,447.10) rotate(-90) scale(1.0,1)" class="xl">2</text><text transform="translate(360.96,442.15) rotate(-90) scale(1.0,1)" class="xl">8</text>
<rect x="44.3" y="288.6" width="2.8" height="141" fill="#8a8a8a"/>
<text x="193.5" y="10.0" text-anchor="middle" class="tt" style="font-size:10.7px" textLength="124.5" lengthAdjust="spacingAndGlyphs">AChE Plasma Activity</text>
<text x="193.45" y="23.9" text-anchor="middle" class="tt" style="font-size:10.7px" textLength="130.1" lengthAdjust="spacingAndGlyphs">1500 mg/kg TOCP (SC)</text>
<text x="193.1" y="248.8" text-anchor="middle" class="tt" style="font-size:10.5px" textLength="122.8" lengthAdjust="spacingAndGlyphs">BChE Plasma Activity</text>
<text x="193.1" y="262.4" text-anchor="middle" class="tt" style="font-size:10.5px" textLength="130.2" lengthAdjust="spacingAndGlyphs">1500 mg/kg TOCP (SC)</text>
<text transform="translate(14.3,182.10) rotate(-90) scale(1,0.99)" class="at" textLength="63.10" lengthAdjust="spacingAndGlyphs">Units/ml</text><text transform="translate(14.3,114.00) rotate(-90) scale(1,0.99)" class="at" textLength="42.40" lengthAdjust="spacingAndGlyphs">AChE</text><text transform="translate(14.3,67.66) rotate(-90) scale(1,0.99)" class="at" textLength="57.24" lengthAdjust="spacingAndGlyphs">Activity</text>
<text transform="translate(14.2,415.70) rotate(-90) scale(1,0.99)" class="at" textLength="63.10" lengthAdjust="spacingAndGlyphs">Units/ml</text><text transform="translate(14.2,348.00) rotate(-90) scale(1,0.99)" class="at" textLength="42.60" lengthAdjust="spacingAndGlyphs">BChE</text><text transform="translate(14.2,301.20) rotate(-90) scale(1,0.99)" class="at" textLength="57.10" lengthAdjust="spacingAndGlyphs">Activity</text>
<text x="94.8" y="467.7" class="at" style="font-size:16.3px" textLength="221.2" lengthAdjust="spacingAndGlyphs">Days post dosing with TOCP</text>
</svg>
</body></html>
